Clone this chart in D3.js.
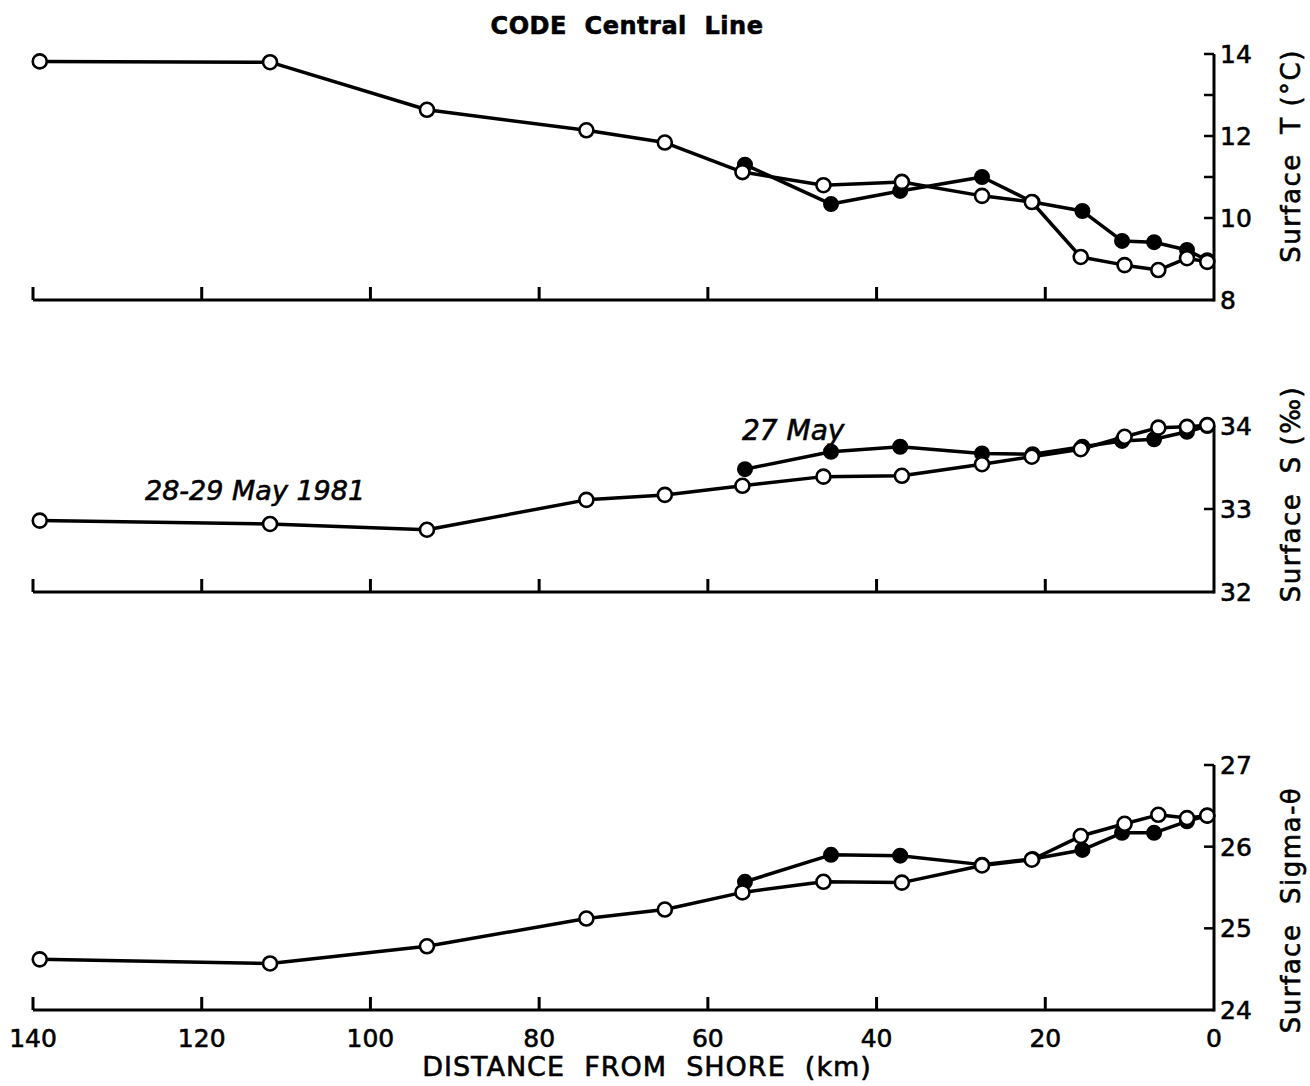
<!DOCTYPE html>
<html>
<head>
<meta charset="utf-8">
<script src="https://cdn.jsdelivr.net/npm/d3@7"></script>
<style>
  html, body { margin: 0; padding: 0; background: #fff; }
  svg { display: block; }
  text { font-family: "DejaVu Sans", sans-serif; fill: #000; stroke: #000; stroke-width: 0.6px; }
</style>
</head>
<body>
<svg id="chart" width="1310" height="1086"></svg>
<script>
// ---- Data (distance from shore in km) ----
const openDist   = [139.2, 111.9, 93.3, 74.4, 65.1, 55.9, 46.3, 37.0, 27.5, 21.6, 15.8, 10.6, 6.6, 3.2, 0.8];
const filledDist = [55.6, 45.4, 37.2, 27.5, 21.5, 15.6, 10.9, 7.1, 3.2, 0.8];

// Surface temperature (°C)
const openT   = [13.82, 13.80, 12.64, 12.14, 11.84, 11.12, 10.80, 10.88, 10.54, 10.39, 9.05, 8.85, 8.73, 9.02, 8.93];
const filledT = [11.30, 10.34, 10.66, 11.00, 10.39, 10.17, 9.44, 9.41, 9.22, 8.97];

// Surface salinity (‰)
const openS   = [32.86, 32.82, 32.75, 33.11, 33.17, 33.28, 33.39, 33.40, 33.54, 33.63, 33.72, 33.87, 33.98, 33.99, 34.01];
const filledS = [33.48, 33.69, 33.75, 33.67, 33.66, 33.75, 33.82, 33.84, 33.93, 34.00];

// Surface sigma-theta
const openD   = [24.62, 24.57, 24.78, 25.12, 25.23, 25.44, 25.57, 25.56, 25.77, 25.84, 26.13, 26.28, 26.39, 26.35, 26.38];
const filledD = [25.57, 25.90, 25.89, 25.78, 25.85, 25.96, 26.17, 26.17, 26.31, 26.38];

const xTicks = [140, 120, 100, 80, 60, 40, 20, 0];
const tTickLabels = [8, 10, 12, 14];
const tTicks = [9, 10, 11, 12, 13, 14];
const sTickLabels = [32, 33, 34];
const sTicks = [33, 34];
const dTickLabels = [24, 25, 26, 27];
const dTicks = [25, 26, 27];

const titleText = "CODE  Central  Line";
const xTitle = "DISTANCE  FROM  SHORE  (km)";
const label1 = "28-29 May 1981";
const label2 = "27 May";

// ---- Layout ----
const svg = d3.select("#chart");
const x = d3.scaleLinear().domain([140, 0]).range([33, 1214]);

const panels = [
  { yDom: [8, 14],  yRange: [300, 54],  open: openT, filled: filledT, ticks: tTicks, labels: tTickLabels, title: "Surface  T (°C)", titleY: 156, xLabels: false },
  { yDom: [32, 34], yRange: [592, 426], open: openS, filled: filledS, ticks: sTicks, labels: sTickLabels, title: "Surface  S (‰)", titleY: 494, xLabels: false },
  { yDom: [24, 27], yRange: [1010, 765], open: openD, filled: filledD, ticks: dTicks, labels: dTickLabels, title: "Surface  Sigma-θ", titleY: 910, xLabels: true }
];

const LW = 3.5;
panels.forEach(p => {
  const y = d3.scaleLinear().domain(p.yDom).range(p.yRange);
  const g = svg.append("g");
  const x0 = x(0);
  const yb = p.yRange[0], yt = p.yRange[1];

  // x axis line + inward ticks
  g.append("path")
    .attr("d", `M${x(140)},${yb}H${x0}`)
    .attr("stroke", "#000").attr("stroke-width", 3).attr("fill", "none");
  g.selectAll(".xt").data(xTicks.filter(d => d > 0)).enter().append("line")
    .attr("x1", d => x(d)).attr("x2", d => x(d))
    .attr("y1", yb).attr("y2", yb - 13)
    .attr("stroke", "#000").attr("stroke-width", 3);

  // right axis
  g.append("line").attr("x1", x0).attr("x2", x0).attr("y1", yb + 1.5).attr("y2", yt)
    .attr("stroke", "#000").attr("stroke-width", 3);
  g.selectAll(".yt").data(p.ticks).enter().append("line")
    .attr("x1", x0).attr("x2", x0 - 10)
    .attr("y1", d => y(d)).attr("y2", d => y(d))
    .attr("stroke", "#000").attr("stroke-width", 2.5);
  g.selectAll(".yl").data(p.labels).enter().append("text")
    .attr("x", x0 + 6).attr("y", d => y(d))
    .attr("dy", "0.36em")
    .attr("font-size", 25)
    .text(d => d);

  // axis title (rotated)
  g.append("text")
    .attr("transform", `translate(1291,${p.titleY}) rotate(-90)`)
    .attr("text-anchor", "middle")
    .attr("font-size", 26)
    .attr("letter-spacing", 1.5)
    .attr("dy", "0.36em")
    .style("white-space", "pre")
    .text(p.title);

  if (p.xLabels) {
    g.selectAll(".xl").data(xTicks).enter().append("text")
      .attr("x", d => x(d)).attr("y", yb + 37)
      .attr("text-anchor", "middle")
      .attr("font-size", 25)
      .text(d => d);
  }

  const line = d3.line().x(d => x(d[0])).y(d => y(d[1]));
  const fPts = filledDist.map((d, i) => [d, p.filled[i]]);
  const oPts = openDist.map((d, i) => [d, p.open[i]]);

  g.append("path").attr("d", line(fPts)).attr("fill", "none")
    .attr("stroke", "#000").attr("stroke-width", LW).attr("stroke-linejoin", "round");
  g.append("path").attr("d", line(oPts)).attr("fill", "none")
    .attr("stroke", "#000").attr("stroke-width", LW).attr("stroke-linejoin", "round");

  g.selectAll(".fp").data(fPts).enter().append("circle")
    .attr("cx", d => x(d[0])).attr("cy", d => y(d[1])).attr("r", 7)
    .attr("fill", "#000").attr("stroke", "#000").attr("stroke-width", 2);
  g.selectAll(".op").data(oPts).enter().append("circle")
    .attr("cx", d => x(d[0])).attr("cy", d => y(d[1])).attr("r", 7)
    .attr("fill", "#fff").attr("stroke", "#000").attr("stroke-width", 2.6);
});

// Title
svg.append("text").attr("x", 627).attr("y", 34)
  .attr("text-anchor", "middle").attr("font-size", 24).attr("font-weight", "bold")
  .attr("letter-spacing", 0.5)
  .style("white-space", "pre").text(titleText);

// X axis title
svg.append("text").attr("x", 647).attr("y", 1076)
  .attr("text-anchor", "middle").attr("font-size", 27).attr("letter-spacing", 1)
  .style("white-space", "pre").text(xTitle);

// Annotations
svg.append("text").attr("x", 145).attr("y", 500)
  .attr("font-size", 27).attr("font-style", "italic").text(label1);
svg.append("text").attr("x", 742).attr("y", 440)
  .attr("font-size", 28).attr("font-style", "italic").text(label2);
</script>
</body>
</html>
